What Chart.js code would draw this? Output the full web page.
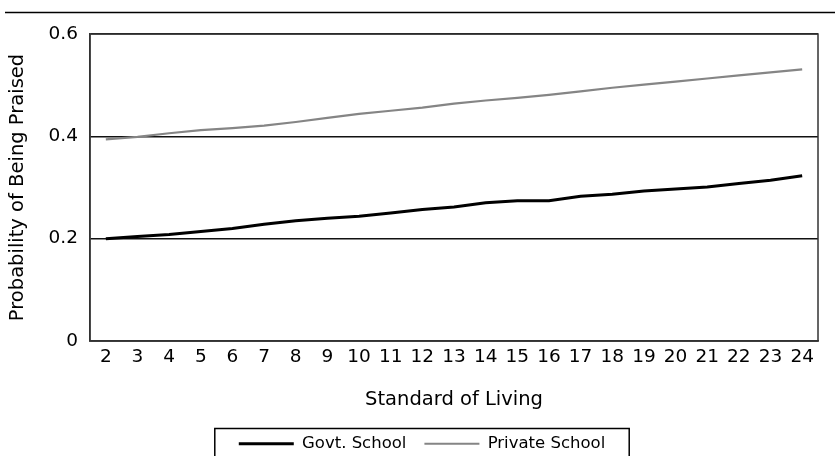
<!DOCTYPE html>
<html><head><meta charset="utf-8">
<script src="https://cdn.jsdelivr.net/npm/chart.js@4"></script>
<style>html,body{margin:0;padding:0;background:#fff}</style>
</head><body>
<canvas id="c" width="835" height="456"></canvas>
<script>
const categories = ['2','3','4','5','6','7','8','9','10','11','12','13','14','15','16','17','18','19','20','21','22','23','24'];
const govtSchool = [0.200,0.204,0.208,0.214,0.220,0.228,0.235,0.240,0.244,0.250,0.257,0.262,0.270,0.274,0.274,0.283,0.287,0.293,0.297,0.301,0.308,0.314,0.323];
const privateSchool = [0.394,0.399,0.406,0.412,0.416,0.421,0.428,0.436,0.444,0.450,0.456,0.464,0.470,0.475,0.481,0.488,0.495,0.501,0.507,0.513,0.519,0.525,0.531];
const seriesNames = ['Govt. School','Private School'];
const yTickValues = [0,0.2,0.4,0.6];
const yTickLabels = ['0','0.2','0.4','0.6'];
const xTitle = 'Standard of Living';
const yTitle = 'Probability of Being Praised';

const FONT = '"DejaVu Sans", Verdana, sans-serif';

const decor = {
  id: 'decor',
  afterLayout(chart) {
    const lg = chart.legend;
    if (lg) { lg.top += 6; lg.bottom += 6; lg.left += 13; lg.right += 13; }
  },
  afterDraw(chart) {
    const ctx = chart.ctx;
    const a = chart.chartArea;
    ctx.save();
    // top rule
    ctx.strokeStyle = '#000';
    ctx.lineWidth = 1.5;
    ctx.beginPath();
    ctx.moveTo(5, 12.5); ctx.lineTo(835, 12.5);
    ctx.stroke();
    // plot frame
    ctx.strokeStyle = '#333';
    ctx.lineWidth = 1.5;
    ctx.strokeRect(a.left, a.top, a.right - a.left, a.bottom - a.top);
    // legend frame
    const lg = chart.legend;
    if (lg && lg.lineWidths) {
      const w = lg.lineWidths[0] - lg.options.labels.padding;
      const cx = (lg.left + lg.right) / 2;
      const l = cx - w / 2 - 24;
      const r = cx + w / 2 + 24;
      const t = lg.top + lg.options.labels.padding - 7;
      ctx.strokeStyle = '#000';
      ctx.lineWidth = 1.5;
      ctx.strokeRect(l, t, r - l, 60);
    }
    ctx.restore();
  }
};

new Chart(document.getElementById('c'), {
  type: 'line',
  data: {
    labels: categories,
    datasets: [
      { label: seriesNames[0], data: govtSchool, borderColor: '#000', backgroundColor: '#000', borderWidth: 3, pointRadius: 0, tension: 0, fill: false },
      { label: seriesNames[1], data: privateSchool, borderColor: '#858585', backgroundColor: '#858585', borderWidth: 2.2, pointRadius: 0, tension: 0, fill: false }
    ]
  },
  options: {
    responsive: false,
    devicePixelRatio: 1,
    animation: false,
    layout: { padding: { top: 34, right: 17, left: 0, bottom: 0 } },
    plugins: {
      legend: {
        position: 'bottom',
        labels: {
          usePointStyle: true,
          pointStyle: 'line',
          pointStyleWidth: 55,
          padding: 18,
          color: '#000',
          font: { family: FONT, size: 16.5 }
        }
      },
      tooltip: { enabled: false }
    },
    scales: {
      x: {
        type: 'category',
        offset: true,
        grid: { display: false, drawTicks: false },
        border: { display: true, color: '#333', width: 1.5 },
        ticks: { color: '#000', font: { family: FONT, size: 18.5 }, padding: 5, maxRotation: 0, autoSkip: false },
        title: { display: true, text: xTitle, color: '#000', font: { family: FONT, size: 19.5 }, padding: { top: 10, bottom: 0 } },
        afterFit(s) { s.height = 70.5; }
      },
      y: {
        min: 0, max: 0.6,
        afterBuildTicks(s) { s.ticks = yTickValues.map(v => ({ value: v })); },
        grid: { color: '#111', lineWidth: 1.5, drawTicks: false },
        border: { display: true, color: '#333', width: 1.5 },
        ticks: {
          color: '#000', font: { family: FONT, size: 18.5 }, padding: 12,
          callback: (v) => { const i = yTickValues.indexOf(v); return i >= 0 ? yTickLabels[i] : ''; }
        },
        title: { display: true, text: yTitle, color: '#000', font: { family: FONT, size: 19.5 }, padding: { top: 6, bottom: 4 } },
        afterFit(s) { s.width = 90; }
      }
    }
  },
  plugins: [decor]
});
</script>
</body></html>
